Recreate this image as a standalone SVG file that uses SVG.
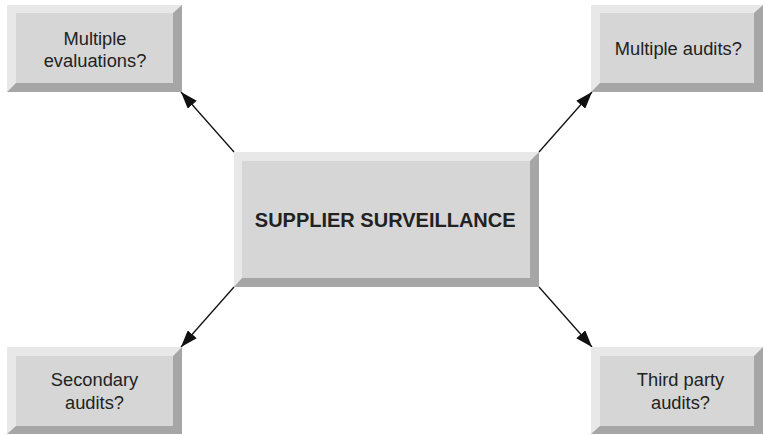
<svg xmlns="http://www.w3.org/2000/svg" width="763" height="435" viewBox="0 0 763 435">
  <defs>
    <style>
      .dark { fill: #a6a6a6; }
      .light { fill: #e8e8e8; }
      .face { fill: #d6d6d6; }
      .lbl { font-family: "Liberation Sans", Arial, sans-serif; font-size: 18.3px; fill: #222; text-anchor: middle; }
      .title { font-family: "Liberation Sans", Arial, sans-serif; font-size: 20px; font-weight: bold; fill: #222; text-anchor: middle; }
      .conn { stroke: #111; stroke-width: 1.3; fill: none; }
    </style>
    <marker id="arrow" viewBox="0 0 17 12" refX="17" refY="6" markerWidth="17" markerHeight="12" markerUnits="userSpaceOnUse" orient="auto">
      <path d="M0,0 L17,6 L0,12 Z" fill="#111"/>
    </marker>
  </defs>

  <g id="connectors">
    <line class="conn" x1="234" y1="152" x2="181" y2="92" marker-end="url(#arrow)"/>
    <line class="conn" x1="539" y1="152" x2="592" y2="92" marker-end="url(#arrow)"/>
    <line class="conn" x1="234" y1="287" x2="181" y2="347" marker-end="url(#arrow)"/>
    <line class="conn" x1="539" y1="287" x2="592" y2="347" marker-end="url(#arrow)"/>
  </g>

  <g id="multiple-evaluations">
    <rect class="dark" x="7" y="5" width="175" height="87"/>
    <polygon class="light" points="7,5 182,5 173,13 16,13 16,83 7,92"/>
    <rect class="face" x="16" y="13" width="157" height="70"/>
    <text class="lbl" x="95" y="45">Multiple</text>
    <text class="lbl" x="95" y="66.5">evaluations?</text>
  </g>

  <g id="multiple-audits">
    <rect class="dark" x="591" y="5" width="172" height="87"/>
    <polygon class="light" points="591,5 763,5 754,13 600,13 600,83 591,92"/>
    <rect class="face" x="600" y="13" width="154" height="70"/>
    <text class="lbl" x="678.3" y="55">Multiple audits?</text>
  </g>

  <g id="supplier-surveillance">
    <rect class="dark" x="234" y="152" width="305" height="135"/>
    <polygon class="light" points="234,152 539,152 530,161 242,161 242,278 234,287"/>
    <rect class="face" x="242" y="161" width="288" height="117"/>
    <text class="title" x="385.2" y="227.3">SUPPLIER SURVEILLANCE</text>
  </g>

  <g id="secondary-audits">
    <rect class="dark" x="7" y="347" width="175" height="87"/>
    <polygon class="light" points="7,347 182,347 173,356 16,356 16,426 7,434"/>
    <rect class="face" x="16" y="356" width="157" height="70"/>
    <text class="lbl" x="94.5" y="385.7">Secondary</text>
    <text class="lbl" x="94.5" y="409">audits?</text>
  </g>

  <g id="third-party-audits">
    <rect class="dark" x="591" y="347" width="172" height="87"/>
    <polygon class="light" points="591,347 763,347 754,356 600,356 600,426 591,434"/>
    <rect class="face" x="600" y="356" width="154" height="70"/>
    <text class="lbl" x="680.5" y="385.7">Third party</text>
    <text class="lbl" x="680.5" y="409">audits?</text>
  </g>
</svg>
